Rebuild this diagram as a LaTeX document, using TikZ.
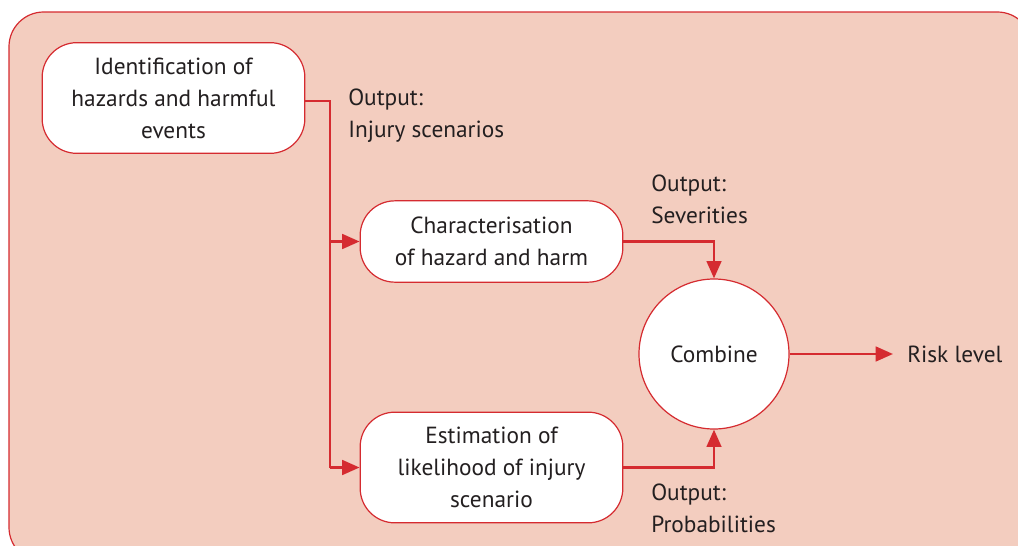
\documentclass[tikz,border=0pt]{standalone}
\usepackage{fontspec}
\setmainfont{PT Sans}
\usetikzlibrary{arrows.meta}
\definecolor{riskred}{HTML}{D52B30}
\definecolor{riskbg}{HTML}{F3CDBF}
\definecolor{risktext}{HTML}{231F20}
\begin{document}
\begin{tikzpicture}[x=0.75pt, y=-0.75pt,
  every node/.style={font=\fontsize{17.5}{24}\selectfont, text=risktext},
  stage/.style={draw=riskred, line width=0.9pt, fill=white, rounded corners=26pt,
    align=center, inner sep=0pt},
  combiner/.style={draw=riskred, line width=0.9pt, fill=white, circle, inner sep=0pt,
    minimum size=112.5pt},
  flow/.style={draw=riskred, line width=1.9pt},
  flowto/.style={flow, -{Triangle[length=13pt, width=11pt]}},
  outlabel/.style={anchor=north west, align=left, inner sep=0pt}]
%definitions
\def\panel{(9,12) rectangle (1032,562)}
\useasboundingbox (0,0) rectangle (1018,546);

%background
\filldraw[fill=riskbg, draw=riskred, line width=0.9pt, rounded corners=26pt] \panel;

%shapes
\node[stage, minimum width=197pt, minimum height=83pt] (ident) at (173.5,98)
  {Identification of\\hazards and harmful\\events};
\node[stage, minimum width=197pt, minimum height=61pt] (charac) at (491.5,241.5)
  {Characterisation\\of hazard and harm};
\node[stage, minimum width=197pt, minimum height=83pt] (estim) at (491.5,467.5)
  {Estimation of\\likelihood of injury\\scenario};
\node[combiner] (comb) at (714,354) {Combine};
\node[anchor=west, inner sep=0pt, inner xsep=10.5pt] (risk) at (893,354) {Risk level};

%labels
\node[outlabel] (outinj) at (348,89) {Output:\\Injury scenarios};
\node[outlabel] (outsev) at (651,175) {Output:\\Severities};
\node[outlabel] (outprob) at (651,484) {Output:\\Probabilities};

%connectors
\coordinate (split) at (330,101);
\draw[flow] (ident.east |- split) -- (split) -- (split |- estim.west);
\draw[flowto] (split |- charac.west) -- (charac.west);
\draw[flowto] (split |- estim.west) -- (estim.west);
\draw[flowto] (charac.east) -- (comb.north |- charac.east) -- (comb.north);
\draw[flowto] (estim.east) -- (comb.south |- estim.east) -- (comb.south);
\draw[flowto] (comb.east) -- (risk.west);
\end{tikzpicture}
\end{document}
